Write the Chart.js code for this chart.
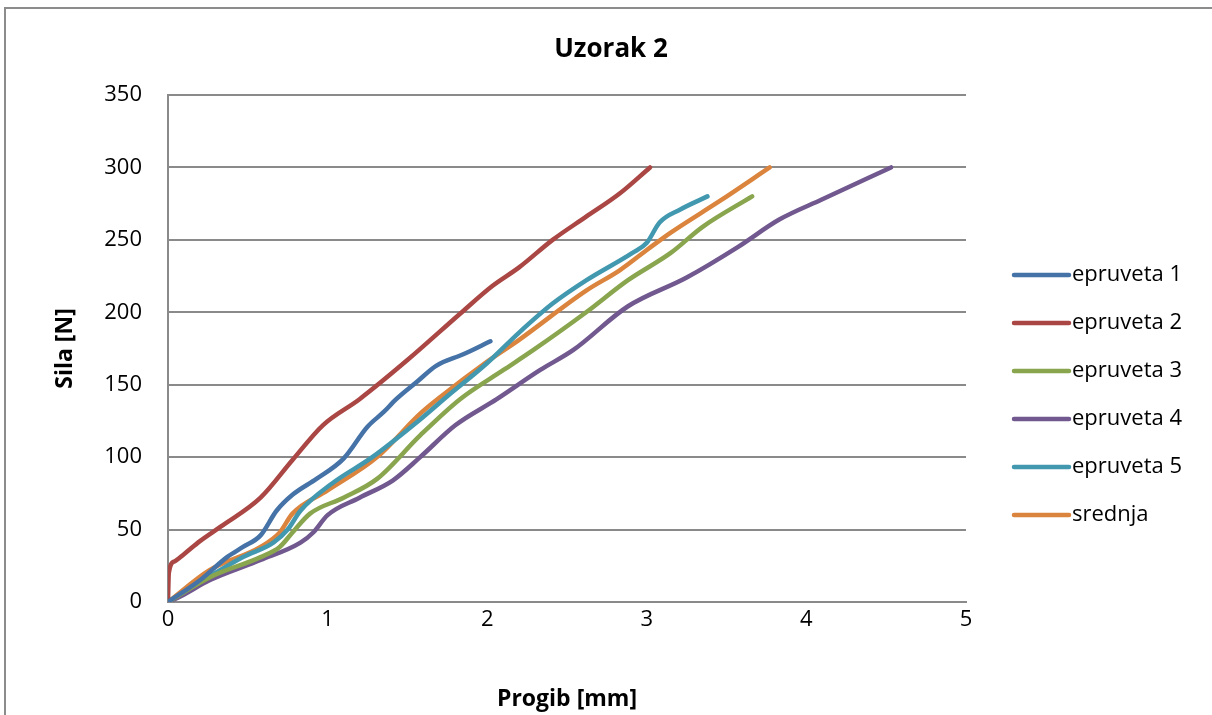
<!DOCTYPE html>
<html lang="hr">

<head>
    <meta charset="UTF-8">
    <title>Uzorak 2</title>
    <style>
        html, body {
            margin: 0;
            padding: 0;
            background: #ffffff;
            overflow: hidden;
        }

        .frame {
            position: absolute;
            left: 4px;
            top: 7px;
            width: 1300px;
            height: 800px;
            border: 2px solid #8c8c8c;
        }

        .wrap {
            position: absolute;
            left: 0;
            top: 0;
            width: 1212px;
            height: 715px;
        }
    </style>
</head>

<body>
    <div class="frame"></div>
    <div class="wrap">
        <canvas id="chart" width="1212" height="715"></canvas>
    </div>

    <script src="https://cdn.jsdelivr.net/npm/chart.js"></script>
    <script>
        // Progib [mm] / Sila [N]
        const e1X = [0, 0.2, 0.37, 0.47, 0.58, 0.68, 0.78, 0.93, 1.1, 1.25, 1.35, 1.43, 1.56, 1.68, 1.85, 2.02];
        const e1Y = [0, 15, 31, 38, 46, 63, 74, 85, 99, 121, 131, 140, 152, 163, 171, 180];

        const e2X = [0, 0.005, 0.04, 0.1, 0.2, 0.33, 0.58, 0.78, 0.97, 1.2, 1.5, 1.83, 2.03, 2.2, 2.41, 2.62, 2.83, 3.02];
        const e2Y = [0, 20, 28, 33, 42, 52, 72, 98, 122, 140, 167, 199, 218, 231, 250, 266, 282, 300];

        const e3X = [0, 0.26, 0.58, 0.7, 0.78, 0.89, 1.1, 1.31, 1.58, 1.83, 2.1, 2.29, 2.62, 2.88, 3.15, 3.35, 3.66];
        const e3Y = [0, 17, 31, 38, 48, 61, 72, 85, 115, 140, 160, 174, 200, 222, 241, 259, 280];

        const e4X = [0, 0.08, 0.26, 0.58, 0.83, 0.91, 1.0, 1.2, 1.41, 1.58, 1.8, 2.06, 2.33, 2.54, 2.88, 3.25, 3.57, 3.83, 4.1, 4.53];
        const e4Y = [0, 4, 15, 29, 41, 48, 60, 72, 84, 100, 122, 140, 160, 174, 204, 224, 245, 264, 278, 300];

        const e5X = [0, 0.47, 0.66, 0.75, 0.83, 1.03, 1.28, 1.58, 1.75, 2.0, 2.2, 2.41, 2.62, 2.91, 3.0, 3.08, 3.21, 3.38];
        const e5Y = [0, 31, 41, 50, 63, 82, 100, 126, 142, 165, 186, 206, 222, 241, 248, 262, 271, 280];

        const srX = [0, 0.26, 0.58, 0.7, 0.78, 1.0, 1.31, 1.58, 1.7, 2.0, 2.2, 2.62, 2.83, 3.0, 3.15, 3.46, 3.77];
        const srY = [0, 22, 38, 48, 61, 77, 100, 130, 141, 166, 181, 215, 229, 243, 255, 277, 300];

        const seriesNames = ["epruveta 1", "epruveta 2", "epruveta 3", "epruveta 4", "epruveta 5", "srednja"];
        const seriesColors = ["#4572A7", "#AA4643", "#89A54E", "#71588F", "#4198AF", "#DB843D"];
        const xTicks = [0, 1, 2, 3, 4, 5];
        const yTicks = [0, 50, 100, 150, 200, 250, 300, 350];

        const pairs = (xs, ys) => xs.map((x, i) => ({ x: x, y: ys[i] }));
        const allSeries = [pairs(e1X, e1Y), pairs(e2X, e2Y), pairs(e3X, e3Y), pairs(e4X, e4Y), pairs(e5X, e5Y), pairs(srX, srY)];

        const FONT = "'Open Sans', sans-serif";
        Chart.defaults.font.family = FONT;
        Chart.defaults.color = "#000000";

        // title + legend to the right, drawn by hand so the layout matches
        const decor = {
            id: "decor",
            afterDraw(chart) {
                const ctx = chart.ctx;
                ctx.save();
                ctx.fillStyle = "#000";
                ctx.textBaseline = "middle";
                ctx.textAlign = "center";
                ctx.font = "bold 26px " + FONT;
                ctx.fillText("Uzorak 2", 611, 50);

                ctx.font = "22px " + FONT;
                ctx.textAlign = "left";
                chart.data.datasets.forEach((ds, i) => {
                    const y = 275 + i * 48;
                    ctx.strokeStyle = ds.borderColor;
                    ctx.lineWidth = 4.5;
                    ctx.lineCap = "round";
                    ctx.beginPath();
                    ctx.moveTo(1014, y);
                    ctx.lineTo(1069, y);
                    ctx.stroke();
                    ctx.fillText(ds.label, 1072, y);
                });
                ctx.restore();
            }
        };

        new Chart(document.getElementById("chart"), {
            type: "line",
            data: {
                datasets: allSeries.map((pts, i) => ({
                    label: seriesNames[i],
                    data: pts,
                    borderColor: seriesColors[i],
                    backgroundColor: seriesColors[i],
                    borderWidth: 4.5,
                    borderCapStyle: "round",
                    borderJoinStyle: "round",
                    pointRadius: 0,
                    cubicInterpolationMode: "monotone",
                    fill: false
                }))
            },
            options: {
                responsive: false,
                animation: false,
                layout: {
                    padding: { top: 95, right: 246, bottom: 0, left: 0 }
                },
                plugins: {
                    legend: { display: false },
                    title: { display: false },
                    tooltip: { enabled: false }
                },
                scales: {
                    x: {
                        type: "linear",
                        min: xTicks[0],
                        max: xTicks[xTicks.length - 1],
                        afterBuildTicks: (s) => { s.ticks = xTicks.map(v => ({ value: v })); },
                        afterFit: (s) => { s.height = 113; },
                        grid: { display: false, drawTicks: false },
                        border: { display: true, color: "#8a8a8a", width: 2 },
                        ticks: { padding: 5, font: { size: 22 } },
                        title: {
                            display: true,
                            text: "Progib [mm]",
                            font: { size: 23, weight: "bold" },
                            padding: { top: 0, bottom: 2 }
                        }
                    },
                    y: {
                        min: yTicks[0],
                        max: yTicks[yTicks.length - 1],
                        afterBuildTicks: (s) => { s.ticks = yTicks.map(v => ({ value: v })); },
                        afterFit: (s) => { s.width = 168; },
                        grid: { color: "#8a8a8a", lineWidth: 2, drawTicks: false },
                        border: { display: true, color: "#8a8a8a", width: 2 },
                        ticks: { padding: 26, font: { size: 22 } },
                        title: {
                            display: true,
                            text: "Sila [N]",
                            font: { size: 23, weight: "bold" },
                            padding: { top: 52, bottom: 0 }
                        }
                    }
                }
            },
            plugins: [decor]
        });
    </script>
</body>

</html>
